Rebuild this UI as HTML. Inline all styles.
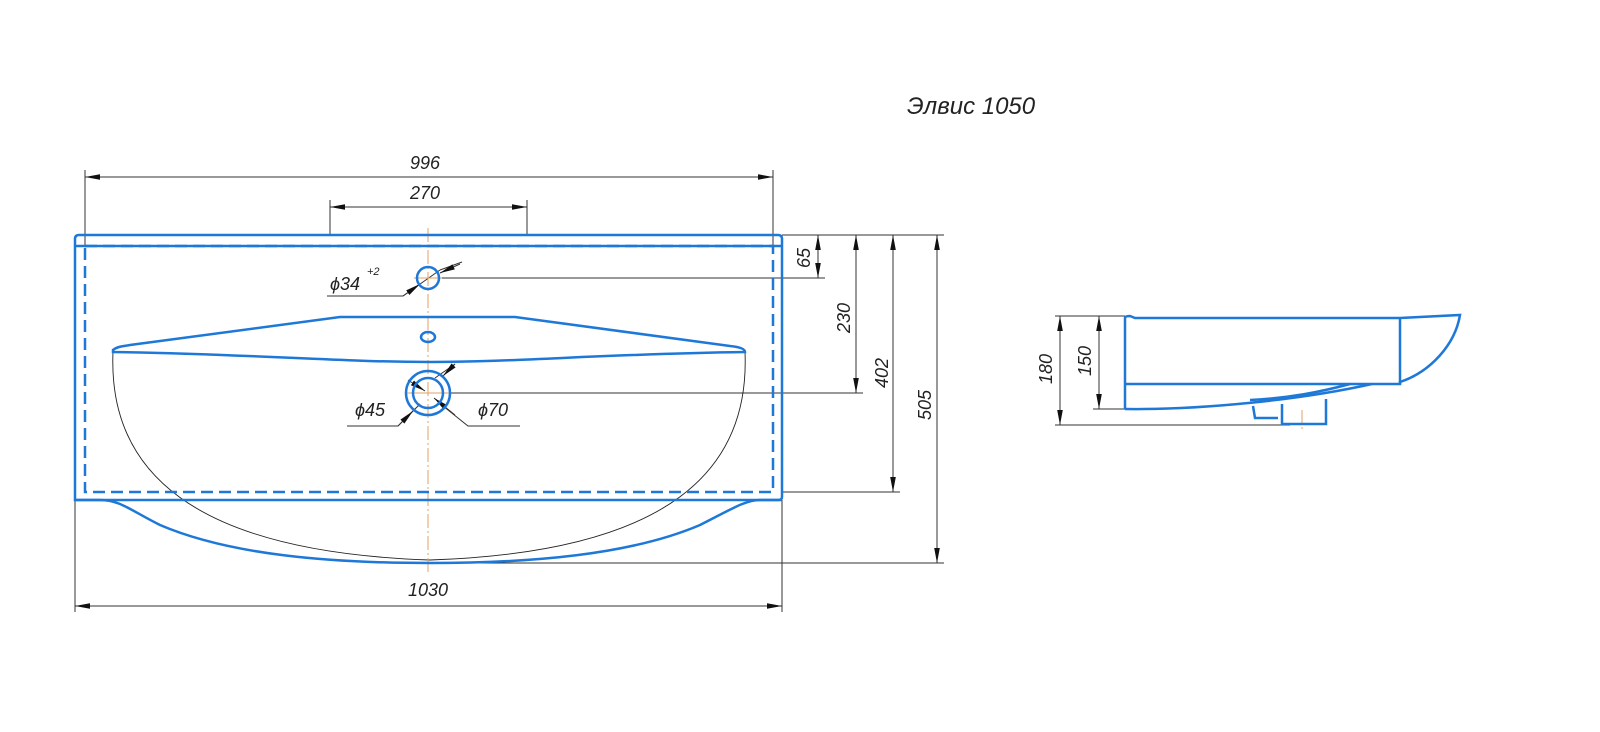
<!DOCTYPE html>
<html><head><meta charset="utf-8"><style>
html,body{margin:0;padding:0;background:#fff;width:1600px;height:732px;overflow:hidden}
text{font-family:"Liberation Sans",sans-serif;font-style:italic;fill:#222;font-size:18px}
</style></head><body>
<svg width="1600" height="732" viewBox="0 0 1600 732" xmlns="http://www.w3.org/2000/svg">
<defs>
<marker id="a" viewBox="0 0 10 10" refX="10" refY="5" markerWidth="15" markerHeight="7" orient="auto-start-reverse" markerUnits="userSpaceOnUse" preserveAspectRatio="none"><path d="M0,1 L10,5 L0,9z" fill="#111"/></marker>
</defs>
<text x="907" y="114" style="font-size:24px">Элвис 1050</text>
<g stroke="#333" stroke-width="1" fill="none">
<line x1="85" y1="170" x2="85" y2="246"/><line x1="773" y1="170" x2="773" y2="246"/>
<line x1="330" y1="200" x2="330" y2="235"/><line x1="527" y1="200" x2="527" y2="235"/>
<line x1="75" y1="500" x2="75" y2="612"/><line x1="782" y1="500" x2="782" y2="612"/>
<line x1="782" y1="235" x2="944" y2="235"/>
<line x1="440" y1="278" x2="825" y2="278"/>
<line x1="450" y1="393" x2="863" y2="393"/>
<line x1="782" y1="492" x2="900" y2="492"/>
<line x1="430" y1="563" x2="944" y2="563"/>
<line x1="85" y1="177" x2="773" y2="177" marker-start="url(#a)" marker-end="url(#a)"/>
<line x1="330" y1="207" x2="527" y2="207" marker-start="url(#a)" marker-end="url(#a)"/>
<line x1="75" y1="606" x2="782" y2="606" marker-start="url(#a)" marker-end="url(#a)"/>
<line x1="818" y1="235" x2="818" y2="278" marker-start="url(#a)" marker-end="url(#a)"/>
<line x1="856" y1="235" x2="856" y2="393" marker-start="url(#a)" marker-end="url(#a)"/>
<line x1="893" y1="235" x2="893" y2="492" marker-start="url(#a)" marker-end="url(#a)"/>
<line x1="937" y1="235" x2="937" y2="563" marker-start="url(#a)" marker-end="url(#a)"/>
<polyline points="327,296 403,296 440,270"/>
<line x1="440" y1="270" x2="462" y2="262"/>
<polyline points="347,426 398,426 420,404"/>
<line x1="435" y1="378" x2="455" y2="364"/>
<polyline points="520,426 468,426 438,402"/>
<line x1="403" y1="296" x2="420" y2="284" marker-end="url(#a)"/>
<line x1="460" y1="264" x2="440" y2="273" marker-end="url(#a)"/>
<line x1="398" y1="426" x2="413" y2="411" marker-end="url(#a)"/>
<line x1="455" y1="364" x2="443" y2="376" marker-end="url(#a)"/>
<line x1="408" y1="380" x2="425" y2="391" marker-end="url(#a)"/>
<line x1="455" y1="415" x2="434" y2="398" marker-end="url(#a)"/>
<path d="M113,352 C108,470 190,552 430,560 C670,552 750,470 745,352" stroke="#222" stroke-width="0.9"/>
<line x1="1055" y1="316" x2="1125" y2="316"/>
<line x1="1093" y1="409" x2="1125" y2="409"/>
<line x1="1055" y1="425" x2="1290" y2="425"/>
<line x1="1060" y1="316" x2="1060" y2="425" marker-start="url(#a)" marker-end="url(#a)"/>
<line x1="1099" y1="316" x2="1099" y2="409" marker-start="url(#a)" marker-end="url(#a)"/>
</g>
<g stroke="#e0a060" stroke-width="1" stroke-dasharray="14,3,2,3">
<line x1="428" y1="228" x2="428" y2="572"/>
<line x1="1302" y1="410" x2="1302" y2="430"/>
</g>
<line x1="406" y1="393" x2="450" y2="393" stroke="#e0a060"/>
<line x1="414" y1="278" x2="442" y2="278" stroke="#e0a060"/>
<g stroke="#1e78d8" stroke-width="2.5" fill="none">
<path d="M79,235 L778,235 Q782,235 782,239 L782,497 Q782,500 778,500 L75,500 L75,239 Q75,235 79,235z"/>
<line x1="75" y1="246" x2="782" y2="246"/>
<rect x="85" y="246" width="688" height="246" stroke-dasharray="12,6"/>
<path d="M75,500 L100,500 C120,500 130,510 160,525 C230,555 330,563 430,563 C530,563 630,555 700,525 C730,510 745,500 760,500 L782,500"/>
<path d="M113,350 C118,346 125,346 130,345 L340,317 L515,317 L730,346 C740,347 745,349 745,352 C600,354 520,362 430,362 C340,362 250,354 113,352z"/>
<circle cx="428" cy="278" r="11"/>
<ellipse cx="428" cy="337" rx="7" ry="5"/>
<circle cx="428" cy="393" r="22"/>
<circle cx="428" cy="393" r="15"/>
<path d="M1125,409 L1125,318 Q1125,316 1130,316 L1135,318 L1400,318 L1460,315 C1455,345 1430,372 1400,382 L1400,384 L1125,384"/>
<line x1="1400" y1="318" x2="1400" y2="384"/>
<path d="M1125,409 C1200,410 1300,400 1372,384"/>
<path d="M1250,400 C1290,398 1320,392 1350,384"/>
<path d="M1253,406 L1255,418 L1278,418"/>
<path d="M1282,404 L1282,424 L1326,424 L1326,399"/>
</g>
<text x="410" y="169">996</text>
<text x="410" y="199">270</text>
<text x="408" y="596">1030</text>
<text x="330" y="290">ϕ34</text><text x="367" y="275" style="font-size:11px">+2</text>
<text x="355" y="416">ϕ45</text>
<text x="478" y="416">ϕ70</text>
<text transform="translate(810,268) rotate(-90)">65</text>
<text transform="translate(850,333) rotate(-90)">230</text>
<text transform="translate(888,388) rotate(-90)">402</text>
<text transform="translate(931,420) rotate(-90)">505</text>
<text transform="translate(1052,384) rotate(-90)">180</text>
<text transform="translate(1091,376) rotate(-90)">150</text>
</svg>
</body></html>
